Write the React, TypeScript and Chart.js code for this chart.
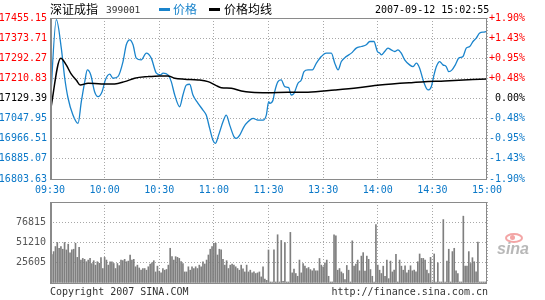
import React, { useEffect, useRef } from "react";
import { Chart, registerables } from "chart.js";
Chart.register(...registerables);

// ---- data ----
const prevClose = 17129.39;
const timeLabels = ["09:30", "10:00", "10:30", "11:00", "11:30", "13:30", "14:00", "14:30", "15:00"];
const tickMinutes = [0, 30, 60, 90, 120, 150, 180, 210, 240];
const priceTicks = [17455.15, 17373.71, 17292.27, 17210.83, 17129.39, 17047.95, 16966.51, 16885.07, 16803.63];
const volumeTicks = [0, 25605, 51210, 76815, 102420];

const priceMinutes = [
  0, 3.5, 6.2, 8.1, 9.9, 12.6, 15.4, 17.2, 19.1, 20.5, 22.4, 24.5, 26.4, 28.6, 30.4, 32.8, 34.6, 37.3, 40.1, 41.9,
  43.8, 45.6, 47.4, 50.1, 52.9, 55.6, 58.4, 60.7, 62.1, 64.8, 66.6, 68.5, 71.2, 73.0, 74.9, 76.7, 78.5, 81.3, 84.0, 85.8,
  87.7, 89.5, 90.8, 92.6, 95.0, 96.8, 98.7, 101.1, 102.3, 104.2, 106.5, 108.7, 111.5, 114.2, 117.0, 118.8, 120.1, 120.7, 122.5, 123.4,
  125.2, 127.0, 128.9, 131.1, 132.5, 134.0, 136.2, 138.0, 139.5, 141.7, 144.1, 146.3, 149.0, 151.7, 154.5, 156.4, 158.2, 160.0, 162.7, 165.5,
  168.2, 171.0, 173.7, 175.6, 177.9, 179.8, 181.1, 182.0, 183.8, 185.6, 187.4, 189.3, 191.1, 192.9, 194.8, 197.5, 199.4, 201.2, 203.0, 204.9,
  206.7, 207.6, 209.4, 210.9, 212.2, 214.0, 215.8, 217.6, 219.0, 220.8, 222.6, 224.5, 226.8, 228.6, 230.5, 232.3, 234.1, 236.0, 238.4, 240,
];
const priceValues = [
  17082.6, 17448.2, 17333.3, 17211.4, 17131.4, 17062.3, 17028.7, 17116.4, 17197.6, 17245.1, 17224.8, 17157.0, 17136.7, 17157.0, 17204.5, 17227.7, 17211.4, 17217.9, 17278.9, 17346.7,
  17367.0, 17346.7, 17292.7, 17285.8, 17313.0, 17292.7, 17231.8, 17224.8, 17231.8, 17224.8, 17197.6, 17143.6, 17096.1, 17143.6, 17184.2, 17187.1, 17143.6, 17109.9, 17082.6, 17062.3,
  17008.3, 16960.8, 16947.4, 16981.1, 17035.1, 17062.3, 17021.7, 16974.2, 16967.7, 16981.1, 17014.8, 17035.1, 17048.95, 17042.0, 17042.0, 17062.3, 17116.4, 17109.9, 17123.3, 17157.0,
  17197.6, 17204.5, 17177.3, 17173.2, 17143.6, 17150.5, 17191.1, 17204.5, 17238.2, 17245.1, 17245.1, 17272.4, 17299.2, 17313.0, 17313.0, 17272.4, 17245.1, 17278.9, 17299.2, 17313.0,
  17333.3, 17339.8, 17346.7, 17360.1, 17360.1, 17319.5, 17313.0, 17306.1, 17319.5, 17333.3, 17326.4, 17319.5, 17326.4, 17313.0, 17285.8, 17265.4, 17258.5, 17272.4, 17252.05, 17204.5,
  17170.8, 17163.9, 17177.3, 17224.8, 17258.5, 17278.9, 17265.4, 17258.5, 17238.2, 17245.1, 17265.4, 17292.7, 17299.2, 17333.3, 17339.8, 17360.1, 17373.9, 17394.2, 17398.3, 17400.7,
];

const avgMinutes = [
  0, 5.9, 8.9, 11.7, 14.4, 16.6, 20.9, 28.2, 35.5, 41.0, 46.5, 53.8, 60.2, 64.8, 68.5, 74.0, 81.3, 86.8, 91.3, 94.1,
  99.6, 105.1, 110.6, 119.7, 130.7, 141.7, 156.4, 169.2, 181.1, 198.4, 216.8, 240,
];
const avgValues = [
  17069.3, 17292.7, 17265.4, 17227.7, 17204.5, 17184.2, 17191.1, 17188.3, 17188.3, 17197.6, 17211.4, 17217.9, 17220.8, 17220.8, 17211.4, 17207.4, 17204.5, 17197.6, 17181.4, 17173.2,
  17170.8, 17159.8, 17154.6, 17152.9, 17154.6, 17154.6, 17163.9, 17173.2, 17184.2, 17193.6, 17200.5, 17208.6,
];

// one bar per minute, 09:30 .. 11:30 | 13:00 .. 15:00
const volumes = [
  33300, 36000, 39700, 46100, 51200, 43900, 46100, 42700, 51200, 41800, 49100, 38000, 41800, 42700, 50300, 32400, 45200, 29000, 31100, 29900,
  26900, 29000, 31100, 24700, 28200, 22600, 26900, 25000, 32000, 18300, 32400, 29000, 22600, 26900, 26900, 24700, 18300, 24700, 22000, 29000,
  28200, 29900, 26900, 27700, 35400, 29000, 29900, 20500, 22600, 19000, 16200, 18300, 18300, 16200, 20500, 23900, 25600, 28200, 14000, 21300,
  15000, 12800, 18300, 16200, 17100, 22600, 43900, 33300, 29000, 33300, 32400, 31100, 27000, 24700, 14000, 14000, 20500, 16200, 20500, 18300,
  20500, 18300, 22600, 20500, 26900, 24000, 29000, 35400, 42700, 46100, 50300, 50300, 35400, 42700, 41800, 30000, 22600, 28200, 18300, 22600,
  23900, 22600, 20500, 18300, 16200, 22600, 18000, 14000, 22600, 14000, 16200, 12800, 14000, 12000, 12800, 14000, 7700, 20500, 5000, 3400,
  41800, 1300, 1300, 41800, 1300, 61000, 1300, 53800, 2000, 51200, 1300, 1300, 64000, 12800, 17500, 12000, 8500, 29000, 12800, 24700,
  21300, 18300, 19600, 17000, 15400, 18300, 15400, 15400, 31000, 22600, 20500, 25600, 29000, 8500, 1300, 1300, 61000, 59700, 16200, 18300,
  14000, 12000, 4300, 22200, 16200, 1300, 53300, 21300, 23900, 29000, 15400, 34000, 38400, 15000, 34000, 29900, 17000, 8500, 1300, 73800,
  22600, 16200, 12000, 21300, 8500, 29000, 5500, 27700, 14000, 16200, 36300, 1300, 29000, 21300, 16200, 21800, 12800, 16200, 21800, 15400,
  16200, 14000, 26900, 36700, 31100, 31100, 29000, 16200, 12000, 32400, 1300, 36700, 1300, 25600, 1300, 1300, 80200, 1300, 27700, 42700,
  1300, 39700, 43900, 15400, 12000, 1300, 1300, 84500, 21300, 21300, 39700, 24700, 32000, 26900, 14000, 51600, 1300, 1300, 1300, 1300,
  57600,
];

// ---- styles ----
const MONO = '"DejaVu Sans Mono", "Liberation Mono", monospace';
const CJK = '"Noto Sans CJK SC", "Noto Sans", sans-serif';
const RED = "#ff0000";
const BLUE = "#0a78c8";
const LINE_BLUE = "#1a84cc";
const GRID = "#a8a8a8";
const FRAME = "#8a8a8a";

const framePlugin = {
  id: "frame",
  afterDraw(chart: any) {
    const { ctx, chartArea } = chart;
    ctx.save();
    ctx.strokeStyle = FRAME;
    ctx.lineWidth = 1;
    ctx.strokeRect(
      Math.round(chartArea.left) + 0.5,
      Math.round(chartArea.top) + 0.5,
      Math.round(chartArea.right - chartArea.left) - 1,
      Math.round(chartArea.bottom - chartArea.top)
    );
    ctx.beginPath();
    ctx.moveTo(Math.round(chartArea.left) + 1.5, chartArea.top);
    ctx.lineTo(Math.round(chartArea.left) + 1.5, chartArea.bottom);
    ctx.stroke();
    ctx.restore();
  },
};

function pctLabel(v: number) {
  const p = ((v - prevClose) / prevClose) * 100;
  if (Math.abs(p) < 0.005) return " 0.00%";
  return (p > 0 ? "+" : "-") + Math.abs(p).toFixed(2) + "%";
}
function tickColor(v: number) {
  if (Math.abs(v - prevClose) < 0.01) return "#000000";
  return v > prevClose ? RED : BLUE;
}

const xAxis = (showLabels: boolean, height: number) => ({
  type: "linear" as const,
  min: 0,
  max: 240,
  offset: false,
  afterBuildTicks: (scale: any) => {
    scale.ticks = tickMinutes.map((m) => ({ value: m }));
  },
  afterFit: (scale: any) => {
    scale.height = height;
  },
  grid: { color: GRID, lineWidth: 1, drawTicks: false, offset: false },
  border: { display: false, dash: [1, 2] },
  ticks: {
    display: showLabels,
    autoSkip: false,
    maxRotation: 0,
    padding: 5,
    color: BLUE,
    font: { family: MONO, size: 10 },
    callback: (_v: any, i: number) => timeLabels[i],
  },
});

export default function App() {
  const priceRef = useRef<HTMLCanvasElement>(null);
  const volRef = useRef<HTMLCanvasElement>(null);

  useEffect(() => {
    const priceChart = new Chart(priceRef.current!, {
      type: "line",
      data: {
        datasets: [
          {
            label: "价格均线",
            data: avgMinutes.map((m, i) => ({ x: m, y: avgValues[i] })),
            borderColor: "#000000",
            borderWidth: 1.5,
            pointRadius: 0,
            cubicInterpolationMode: "monotone",
            order: 0,
          },
          {
            label: "价格",
            data: priceMinutes.map((m, i) => ({ x: m, y: priceValues[i] })),
            borderColor: LINE_BLUE,
            borderWidth: 1.3,
            pointRadius: 0,
            cubicInterpolationMode: "monotone",
            order: 1,
          },
        ],
      },
      options: {
        animation: false,
        responsive: false,
        devicePixelRatio: 1,
        layout: { padding: { top: 18, left: 0, right: 0, bottom: 0 } },
        plugins: { legend: { display: false }, tooltip: { enabled: false } },
        scales: {
          x: xAxis(true, 21),
          y: {
            position: "left",
            min: priceTicks[priceTicks.length - 1],
            max: priceTicks[0],
            afterBuildTicks: (scale: any) => {
              scale.ticks = priceTicks.map((v) => ({ value: v }));
            },
            afterFit: (scale: any) => {
              scale.width = 50;
            },
            grid: { color: GRID, drawTicks: false },
            border: { display: false, dash: [1, 2] },
            ticks: {
              padding: 3,
              font: { family: MONO, size: 10 },
              color: (c: any) => tickColor(c.tick.value),
              callback: (v: any) => Number(v).toFixed(2),
            },
          },
          y2: {
            position: "right",
            min: priceTicks[priceTicks.length - 1],
            max: priceTicks[0],
            afterBuildTicks: (scale: any) => {
              scale.ticks = priceTicks.map((v) => ({ value: v }));
            },
            afterFit: (scale: any) => {
              scale.width = 58;
            },
            grid: { display: false, drawTicks: false },
            border: { display: false },
            ticks: {
              padding: 2,
              font: { family: MONO, size: 10 },
              color: (c: any) => tickColor(c.tick.value),
              callback: (v: any) => pctLabel(Number(v)),
            },
          },
        },
      } as any,
      plugins: [framePlugin],
    });

    const volChart = new Chart(volRef.current!, {
      type: "bar",
      data: {
        datasets: [
          {
            label: "成交量",
            data: volumes.map((v, i) => ({ x: i, y: v })),
            backgroundColor: "#7f7f7f",
            barThickness: 1,
          },
        ],
      },
      options: {
        animation: false,
        responsive: false,
        devicePixelRatio: 1,
        layout: { padding: { top: 12, left: 0, right: 58, bottom: 0 } },
        plugins: { legend: { display: false }, tooltip: { enabled: false } },
        scales: {
          x: xAxis(false, 17),
          y: {
            position: "left",
            min: 0,
            max: volumeTicks[volumeTicks.length - 1],
            afterBuildTicks: (scale: any) => {
              scale.ticks = volumeTicks.map((v) => ({ value: v }));
            },
            afterFit: (scale: any) => {
              scale.width = 50;
            },
            grid: { color: GRID, drawTicks: false },
            border: { display: false, dash: [1, 2] },
            ticks: {
              padding: 4,
              font: { family: MONO, size: 10 },
              color: "#555555",
              callback: (v: any, i: number) => (i === 0 || i === volumeTicks.length - 1 ? "" : String(v)),
            },
          },
        },
      } as any,
      plugins: [framePlugin],
    });

    return () => {
      priceChart.destroy();
      volChart.destroy();
    };
  }, []);

  const abs = (l: number, t: number, extra: any = {}) => ({ position: "absolute" as const, left: l, top: t, whiteSpace: "nowrap" as const, ...extra });

  return (
    <div style={{ position: "absolute", left: 0, top: 0, width: 545, height: 300, background: "#fff", overflow: "hidden" }}>
      <canvas ref={priceRef} width={545} height={200} style={{ position: "absolute", left: 0, top: 0, width: 545, height: 200 }} />
      <canvas ref={volRef} width={545} height={110} style={{ position: "absolute", left: 0, top: 190, width: 545, height: 110 }} />
      <div style={abs(50, 1, { fontFamily: CJK, fontSize: 12, lineHeight: "16px", color: "#000" })}>深证成指</div>
      <div style={abs(106, 3, { fontFamily: MONO, fontSize: 9.5, lineHeight: "14px", color: "#333" })}>399001</div>
      <div style={abs(159, 8, { width: 11, height: 3, background: LINE_BLUE })} />
      <div style={abs(173, 1, { fontFamily: CJK, fontSize: 12, lineHeight: "16px", color: LINE_BLUE })}>价格</div>
      <div style={abs(209, 8, { width: 11, height: 3, background: "#000" })} />
      <div style={abs(224, 1, { fontFamily: CJK, fontSize: 12, lineHeight: "16px", color: "#000" })}>价格均线</div>
      <div style={abs(375, 3, { fontFamily: MONO, fontSize: 10, lineHeight: "14px", color: "#000" })}>2007-09-12 15:02:55</div>
      <div style={abs(50, 285, { fontFamily: MONO, fontSize: 10, lineHeight: "14px", color: "#333" })}>Copyright 2007 SINA.COM</div>
      <div style={abs(331, 285, { fontFamily: MONO, fontSize: 10, lineHeight: "14px", color: "#333", width: 157, textAlign: "right" })}>http://finance.sina.com.cn</div>
      <div style={abs(505, 233, { width: 14, height: 6, border: "2px solid #f3a5a5", borderRadius: "50%" })} />
      <div style={abs(510, 235, { width: 5, height: 5, background: "#f3a5a5", borderRadius: "50%" })} />
      <div style={abs(497, 241, { fontFamily: '"Liberation Sans", sans-serif', fontStyle: "italic", fontWeight: "bold", fontSize: 16, lineHeight: "16px", color: "#b8b8b8" })}>sina</div>
    </div>
  );
}
